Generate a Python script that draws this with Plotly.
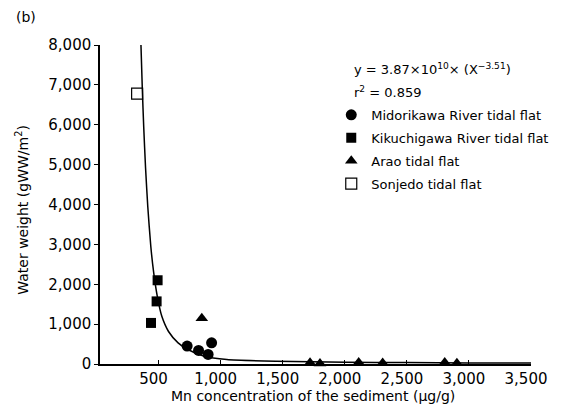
import plotly.graph_objects as go

# ---- data ----
midori_x = [730, 822, 899, 927]
midori_y = [450, 340, 240, 530]

kiku_x = [492, 484, 439]
kiku_y = [2100, 1570, 1030]

arao_x = [848, 1720, 1800, 2112, 2305, 2805, 2903]
arao_y = [1150, 30, 10, 40, 25, 35, 20]

sonjedo_x = [327]
sonjedo_y = [6780]

# fitted regression curve
curve_x = [358, 369, 380, 395, 413, 437, 460, 490, 526, 580, 657, 736,
           867, 1050, 1443, 2010, 2500, 3000, 3500]
curve_y = [8000, 6890, 5955, 4915, 3944, 2960, 2303, 1689, 1195, 815, 530,
           363, 195, 113, 70, 45, 35, 28, 22]

x_ticks = [500, 1000, 1500, 2000, 2500, 3000, 3500]
y_ticks = [0, 1000, 2000, 3000, 4000, 5000, 6000, 7000, 8000]

FONT = "DejaVu Sans"

fig = go.Figure()

fig.add_trace(go.Scatter(
    x=curve_x, y=curve_y, mode="lines",
    line=dict(color="black", width=1.5, shape="spline", smoothing=0.6),
    showlegend=False, hoverinfo="skip", cliponaxis=False))

fig.add_trace(go.Scatter(
    x=midori_x, y=midori_y, mode="markers", name="Midorikawa River tidal flat",
    legendgroup="a",
    marker=dict(symbol="circle", size=11, color="black"), cliponaxis=False))
fig.add_trace(go.Scatter(
    x=kiku_x, y=kiku_y, mode="markers", name="Kikuchigawa River tidal flat",
    legendgroup="b",
    marker=dict(symbol="square", size=10, color="black"), cliponaxis=False))
fig.add_trace(go.Scatter(
    x=arao_x, y=arao_y, mode="markers", name="Arao tidal flat",
    legendgroup="c",
    marker=dict(symbol="triangle-up", size=11, color="black"), cliponaxis=False))
fig.add_trace(go.Scatter(
    x=sonjedo_x, y=sonjedo_y, mode="markers", name="Sonjedo tidal flat",
    legendgroup="d",
    marker=dict(symbol="square-open", size=11, color="black",
                line=dict(width=1.2, color="black")), cliponaxis=False))

L, R, T, B = 100, 24.3, 45, 47.5
W, H = 566, 412
pw, ph = W - L - R, H - T - B

def px(xpix):
    return (xpix - L) / pw

def py(ypix):
    return (H - B - ypix) / ph

fig.update_layout(
    width=W, height=H,
    margin=dict(l=L, r=R, t=T, b=B, pad=0),
    paper_bgcolor="white", plot_bgcolor="white",
    font=dict(family=FONT, color="black", size=13),
    legend=dict(x=px(337), y=py(100), xanchor="left", yanchor="top",
                bgcolor="rgba(0,0,0,0)", font=dict(size=13, family=FONT),
                tracegroupgap=3, itemwidth=30),
    xaxis=dict(range=[28, 3500], tickvals=x_ticks, tickformat=",d",
               showgrid=False, zeroline=False, showline=True,
               linecolor="black", linewidth=1.5, ticks="inside", ticklen=4,
               tickcolor="black", tickwidth=1, ticklabelshift=-5,
               tickfont=dict(size=15, family=FONT)),
    yaxis=dict(range=[0, 8000], tickvals=y_ticks, tickformat=",d",
               showgrid=False, zeroline=False, showline=True,
               linecolor="black", linewidth=1.5, ticks="outside", ticklen=4,
               tickcolor="black", tickwidth=1,
               tickfont=dict(size=15, family=FONT)),
    annotations=[
        dict(text="(b)", x=px(12), y=py(17), xref="paper", yref="paper",
             xanchor="left", yanchor="middle", showarrow=False,
             font=dict(size=14, family=FONT)),
        dict(text="y = 3.87×10<sup>10</sup>× (X<sup>−3.51</sup>)",
             x=px(358), y=py(69), xref="paper", yref="paper",
             xanchor="left", yanchor="middle", showarrow=False,
             font=dict(size=13, family=FONT)),
        dict(text="r<sup>2</sup> = 0.859",
             x=px(358), y=py(92), xref="paper", yref="paper",
             xanchor="left", yanchor="middle", showarrow=False,
             font=dict(size=13, family=FONT)),
        dict(text="Water weight (gWW/m<sup>2</sup>)", textangle=-90,
             x=px(20), y=py(210), xref="paper", yref="paper",
             xanchor="center", yanchor="middle", showarrow=False,
             font=dict(size=14, family=FONT)),
        dict(text="Mn concentration of the sediment (μg/g)",
             x=px(318), y=py(397), xref="paper", yref="paper",
             xanchor="center", yanchor="middle", showarrow=False,
             font=dict(size=14, family=FONT)),
    ],
)

fig.write_html("out.html",
               config={"displayModeBar": False},
               post_script="document.body.style.margin='0';")
